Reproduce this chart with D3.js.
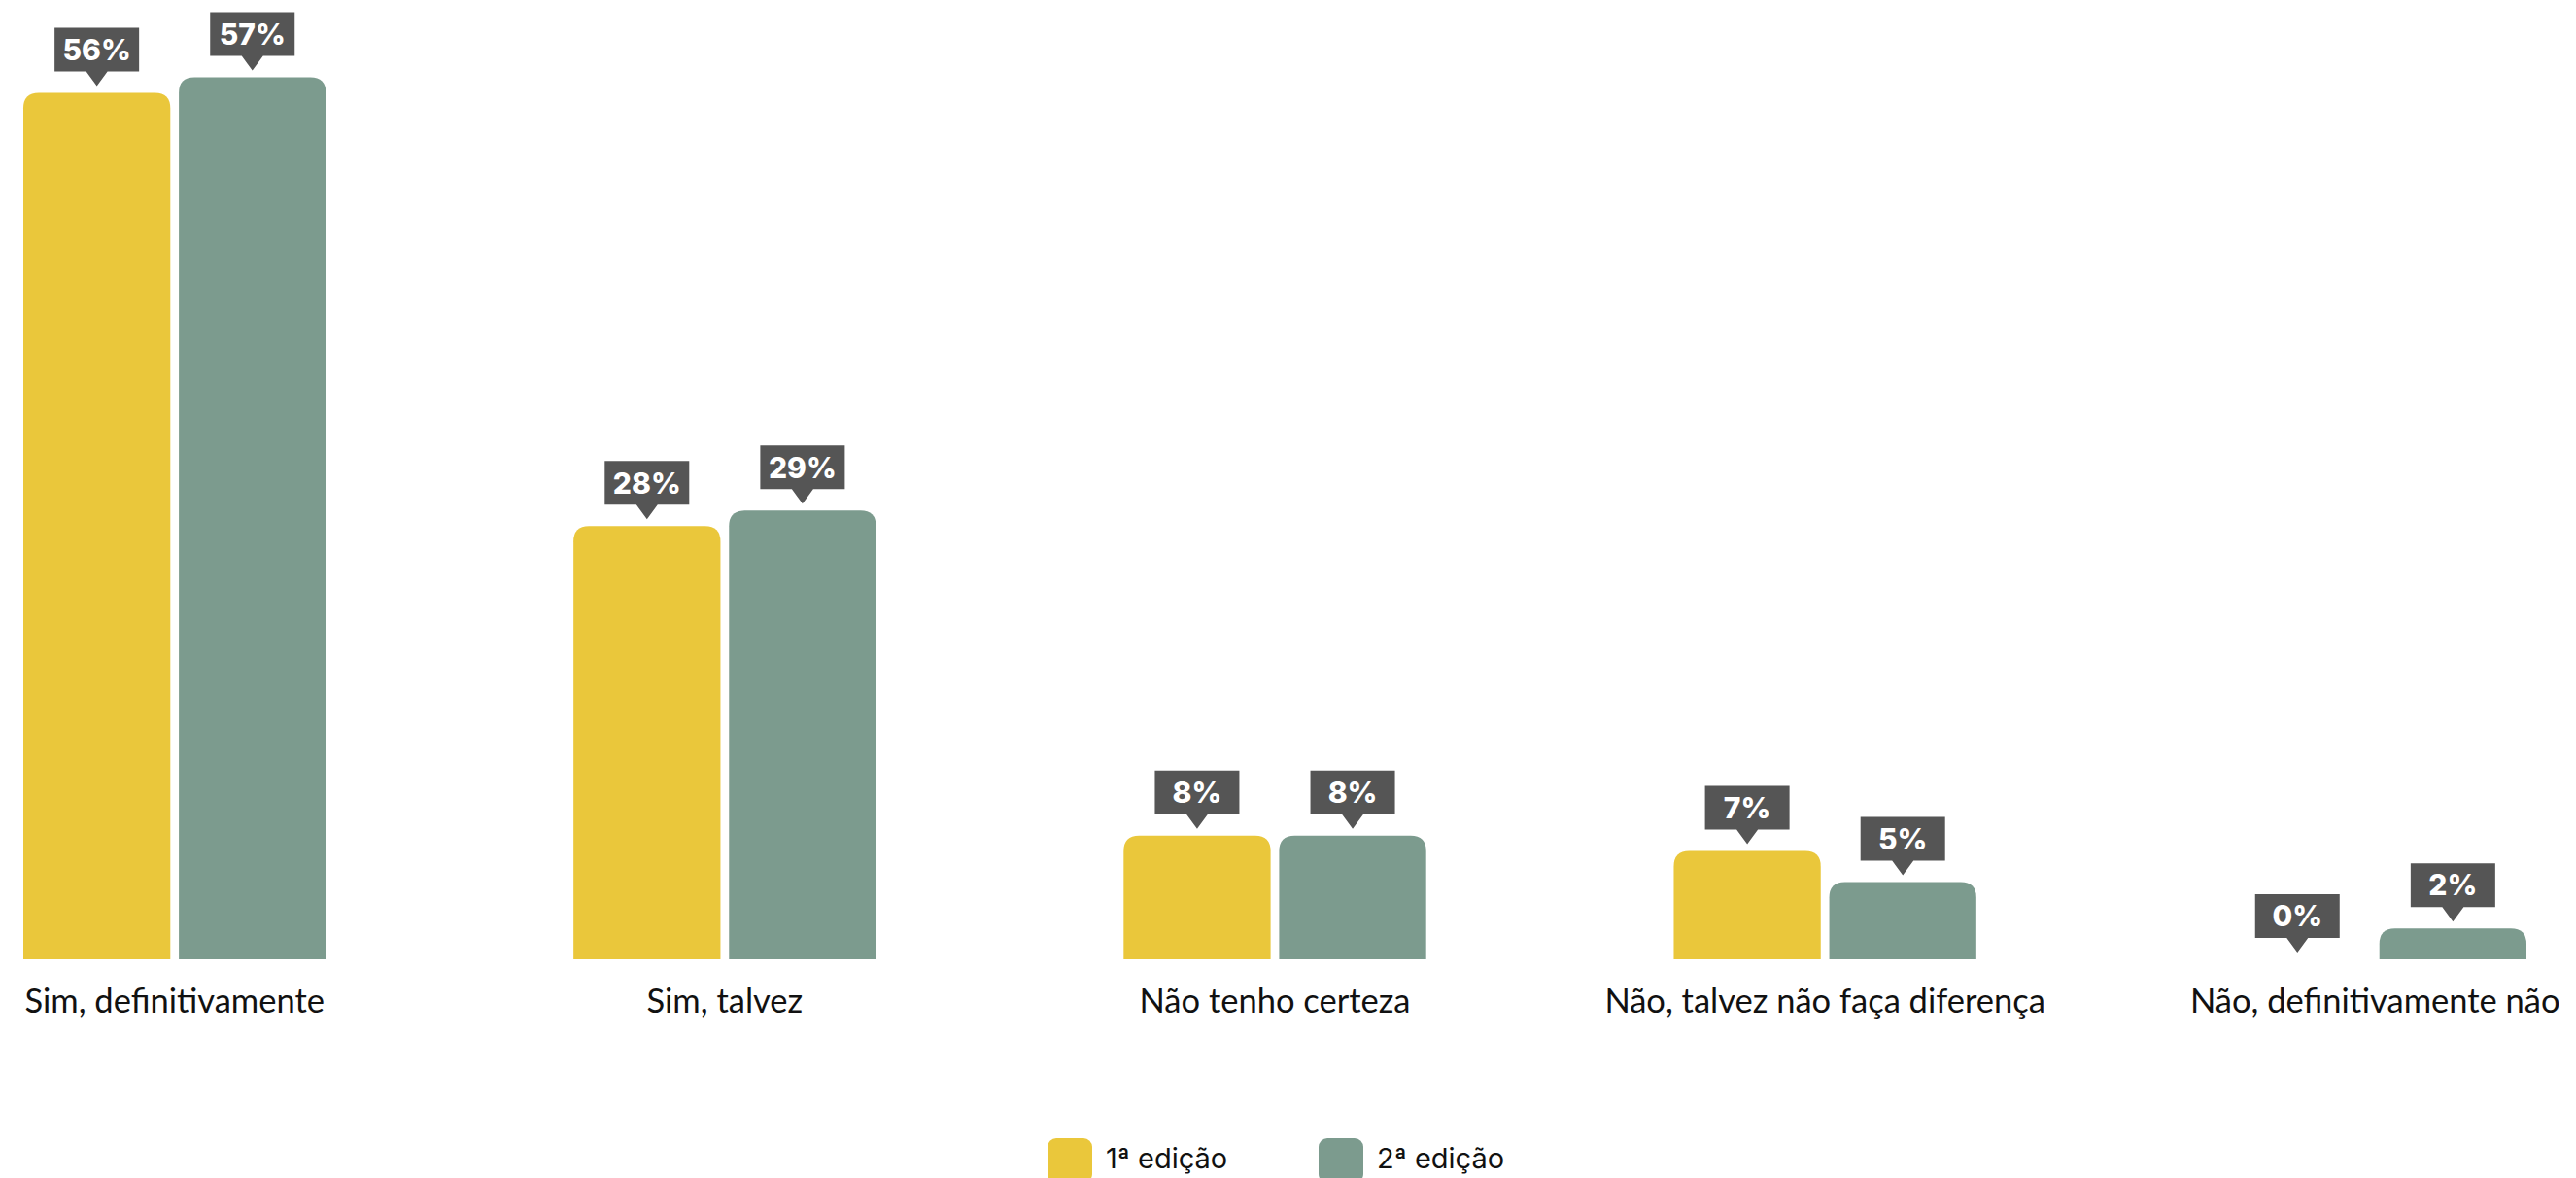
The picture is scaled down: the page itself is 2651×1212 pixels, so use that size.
<!DOCTYPE html>
<html lang="pt">
<head>
<meta charset="utf-8">
<title>Respostas por edição</title>
<script src="https://cdn.jsdelivr.net/npm/d3@7"></script>
<style>
  html, body { margin: 0; padding: 0; background: #ffffff; }
  svg { display: block; }
</style>
</head>
<body>
<svg id="chart" width="2651" height="1212"></svg>
<script>
// Answer categories (x axis)
const categories = [
  "Sim, definitivamente",
  "Sim, talvez",
  "Não tenho certeza",
  "Não, talvez não faça diferença",
  "Não, definitivamente não"
];
// Series names shown in the legend
const seriesNames = ["1ª edição", "2ª edição"];
// Percentages per category for each edition
const edition1 = [56, 28, 8, 7, 0];
const edition2 = [57, 29, 8, 5, 2];
const seriesColors = ["#EAC73B", "#7C9B8E"];

const series = [edition1, edition2];
const rows = categories.map((c, i) => ({
  category: c,
  values: seriesNames.map((s, j) => ({ key: s, value: series[j][i], color: seriesColors[j] }))
}));

const baseY = 987;
const svg = d3.select("#chart");

const x0 = d3.scaleBand()
  .domain(categories)
  .range([24, 2600])
  .paddingInner(0.45)
  .paddingOuter(0);

const x1 = d3.scaleBand()
  .domain(seriesNames)
  .range([0, x0.bandwidth()])
  .paddingInner(0.055)
  .paddingOuter(0);

const y = d3.scaleLinear().domain([0, 62]).range([baseY, 0]);

// Bar with rounded top corners
function topRoundedBar(x, yTop, w, h, r) {
  if (h <= 0) return "";
  const rr = Math.min(r, h, w / 2);
  return `M${x},${yTop + h}` +
    `V${yTop + rr}` +
    `Q${x},${yTop} ${x + rr},${yTop}` +
    `H${x + w - rr}` +
    `Q${x + w},${yTop} ${x + w},${yTop + rr}` +
    `V${yTop + h}Z`;
}

const groups = svg.append("g").attr("class", "groups")
  .selectAll("g")
  .data(rows)
  .join("g")
  .attr("transform", d => `translate(${x0(d.category)},0)`);

groups.selectAll("path.bar")
  .data(d => d.values)
  .join("path")
  .attr("class", "bar")
  .attr("fill", d => d.color)
  .attr("d", d => topRoundedBar(x1(d.key), y(d.value), x1.bandwidth(), baseY - y(d.value), 16));

// Value callouts: dark box with a downward pointer
const boxW = 87, boxH = 45, tipH = 15, tipHalf = 11, tipGap = 7;
const callouts = groups.selectAll("g.callout")
  .data(d => d.values)
  .join("g")
  .attr("class", "callout")
  .attr("transform", d => `translate(${x1(d.key) + x1.bandwidth() / 2},${y(d.value) - tipGap})`);

callouts.append("path")
  .attr("fill", "#555555")
  .attr("d", `M${-boxW / 2},${-tipH - boxH}H${boxW / 2}V${-tipH}H${tipHalf}L0,0L${-tipHalf},${-tipH}H${-boxW / 2}Z`);

callouts.append("text")
  .attr("x", 0)
  .attr("y", -tipH - boxH / 2)
  .attr("dy", "0.36em")
  .attr("text-anchor", "middle")
  .attr("fill", "#ffffff")
  .style("font-family", "Inter, 'Open Sans', sans-serif")
  .style("font-weight", 800)
  .style("font-size", "30px")
  .text(d => d.value + "%");

// Category axis labels
const xAxis = d3.axisBottom(x0).tickSize(0).tickPadding(0);
const axisG = svg.append("g")
  .attr("transform", `translate(0,${baseY})`)
  .call(xAxis);
axisG.select(".domain").remove();
axisG.selectAll("text")
  .attr("y", 0)
  .attr("dy", 0)
  .attr("transform", "translate(0,55)")
  .attr("fill", "#111111")
  .style("font-family", "Lato, 'Open Sans', sans-serif")
  .style("font-size", "34.5px");

// Legend
const legendX = d3.scaleOrdinal().domain(seriesNames).range([1078, 1357]);
const legend = svg.append("g").attr("class", "legend")
  .selectAll("g")
  .data(seriesNames.map((s, i) => ({ name: s, color: seriesColors[i] })))
  .join("g")
  .attr("transform", d => `translate(${legendX(d.name)},1171)`);

legend.append("rect")
  .attr("width", 46)
  .attr("height", 46)
  .attr("rx", 9)
  .attr("fill", d => d.color);

legend.append("text")
  .attr("x", 60)
  .attr("y", 31)
  .attr("fill", "#111111")
  .style("font-family", "Inter, 'Open Sans', sans-serif")
  .style("font-size", "29px")
  .text(d => d.name);
</script>
</body>
</html>
